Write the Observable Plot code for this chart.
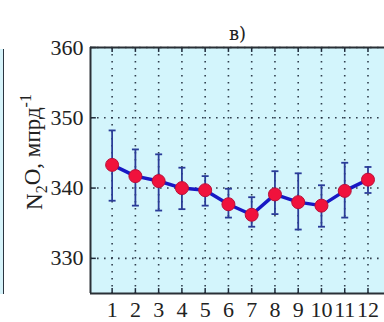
<!DOCTYPE html>
<html>
<head>
<meta charset="utf-8">
<script src="https://cdn.jsdelivr.net/npm/d3@7"></script>
<script src="https://cdn.jsdelivr.net/npm/@observablehq/plot@0.6"></script>
<style>
  html, body { margin: 0; padding: 0; background: #fff; overflow: hidden; }
  #wrap { position: relative; width: 384px; height: 322px; }
  #prev { position: absolute; left: 0; top: 49px; width: 3px; height: 245px;
          background: #d6f3fa; border-right: 1.5px solid #2a3440; }
  #chart { position: absolute; left: 0; top: 0; }
</style>
</head>
<body>
<div id="wrap"><div id="prev"></div><div id="chart"></div></div>
<script>
const months = [1, 2, 3, 4, 5, 6, 7, 8, 9, 10, 11, 12];
const meanN2O = [343.3, 341.7, 341.0, 340.0, 339.7, 337.7, 336.2, 339.1, 338.0, 337.5, 339.6, 341.2];
const upperN2O = [348.2, 345.5, 344.8, 342.9, 341.7, 339.9, 338.7, 342.4, 342.1, 340.4, 343.6, 343.0];
const lowerN2O = [338.2, 337.5, 336.8, 337.0, 337.5, 335.8, 334.5, 336.3, 334.1, 334.5, 335.8, 339.3];
const yTicks = [330, 340, 350, 360];
const xDomain = [0.07, 12.71];
const yDomain = [325, 360];
const titleText = "в)";

const data = months.map((m, i) => ({m, v: meanN2O[i], hi: upperN2O[i], lo: lowerN2O[i]}));

const SERIF = "'Liberation Serif', 'Times New Roman', serif";
const TITLEFONT = "'DejaVu Serif', serif";
const gridStyle = {stroke: "#1e2a3a", strokeWidth: 1.6, strokeDasharray: "1.6,5.4", strokeOpacity: 0.9};
const errColor = "#2a3c98";

const plot = Plot.plot({
  width: 384,
  height: 322,
  marginLeft: 90,
  marginRight: 0,
  marginTop: 47,
  marginBottom: 29,
  style: {fontSize: "22px", color: "#222", background: "transparent"},
  x: {domain: xDomain, ticks: months, tickSize: 0, tickPadding: 8, tickFormat: d => String(d), label: null},
  y: {domain: yDomain, ticks: yTicks, tickSize: 0, tickPadding: 7, label: null},
  marks: [
    Plot.frame({fill: "#d3f5fc", stroke: null}),
    Plot.gridX(months, gridStyle),
    Plot.gridY(yTicks, gridStyle),
    // inward tick marks
    Plot.ruleX(months, {y1: yDomain[0], y2: yDomain[0] + 0.7, stroke: "#1e2a3a", strokeWidth: 1.5}),
    Plot.ruleX(months, {y1: yDomain[1], y2: yDomain[1] - 0.7, stroke: "#1e2a3a", strokeWidth: 1.5}),
    Plot.ruleY(yTicks, {x1: xDomain[0], x2: xDomain[0] + 0.25, stroke: "#1e2a3a", strokeWidth: 1.5}),
    // axes box
    Plot.ruleY(yDomain, {stroke: "#2a3036", strokeWidth: 2}),
    Plot.ruleX([xDomain[0]], {stroke: "#2a3036", strokeWidth: 2}),
    // error bars
    Plot.ruleX(data, {x: "m", y1: "lo", y2: "hi", stroke: errColor, strokeWidth: 1.8}),
    Plot.link(data, {x1: d => d.m - 0.15, x2: d => d.m + 0.15, y1: "hi", y2: "hi", stroke: errColor, strokeWidth: 1.8}),
    Plot.link(data, {x1: d => d.m - 0.15, x2: d => d.m + 0.15, y1: "lo", y2: "lo", stroke: errColor, strokeWidth: 1.8}),
    // mean line + markers
    Plot.line(data, {x: "m", y: "v", stroke: "#1818c4", strokeWidth: 3.5}),
    Plot.dot(data, {x: "m", y: "v", r: 6.5, fill: "#f0123c", stroke: "#b8103a", strokeWidth: 1}),
    // title
    Plot.text([titleText], {text: d => d, frameAnchor: "top", dy: -20, fontSize: 18, fill: "#222"})
  ]
});

const svg = d3.select(plot);
svg.selectAll("text").style("font-family", SERIF);
svg.selectAll("g[aria-label='text'] text").style("font-family", TITLEFONT).style("font-size", "18px");

// y-axis label with subscript / superscript
const lab = svg.append("text")
  .attr("transform", "translate(42,152) rotate(-90)")
  .attr("text-anchor", "middle")
  .attr("fill", "#222")
  .style("font-family", SERIF)
  .style("font-size", "23px");
lab.append("tspan").text("N");
lab.append("tspan").attr("dy", "0.3em").style("font-size", "16px").text("2");
lab.append("tspan").attr("dy", "-0.3em").text("O, мпрд");
lab.append("tspan").attr("dy", "-0.55em").style("font-size", "16px").text("-1");

document.getElementById("chart").appendChild(plot);
</script>
</body>
</html>
